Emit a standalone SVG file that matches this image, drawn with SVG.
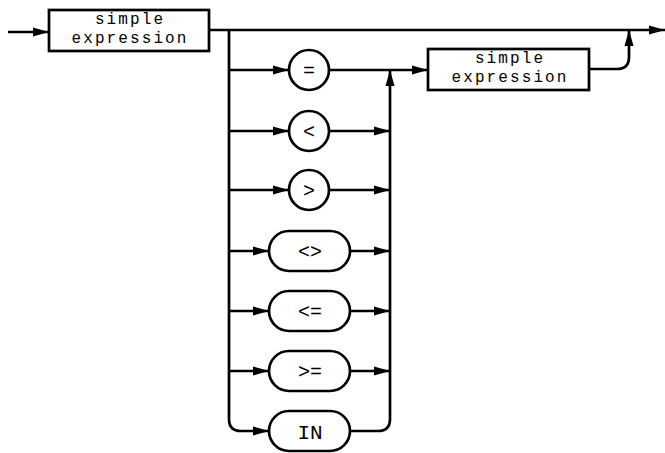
<svg xmlns="http://www.w3.org/2000/svg" width="665" height="453" viewBox="0 0 665 453">
<style>
.ln{fill:none;stroke:#000;stroke-width:2.7;stroke-linejoin:round}
.sh{fill:#fff;stroke:#000;stroke-width:2.7}
.t{font-family:"Liberation Mono","DejaVu Sans Mono",monospace;font-size:16px;letter-spacing:2.1px;fill:#000;text-anchor:middle}
.op{font-family:"Liberation Mono","DejaVu Sans Mono",monospace;font-size:20px;fill:#000;text-anchor:middle}
</style>
<defs>
<marker id="ah" markerUnits="userSpaceOnUse" markerWidth="17" markerHeight="10" refX="16" refY="5" orient="auto">
<path d="M0,0.5 L16,5 L0,9.5 Z" fill="#000"/>
</marker>
</defs>
<g id="connectors">
<path class="ln" d="M8,32 H49" marker-end="url(#ah)"/>
<path class="ln" d="M209,30 H665" marker-end="url(#ah)"/>
<path class="ln" d="M229,30 V419 Q229,431 241,431 H269" marker-end="url(#ah)"/>
<path class="ln" d="M229,70 H289" marker-end="url(#ah)"/>
<path class="ln" d="M229,131 H289" marker-end="url(#ah)"/>
<path class="ln" d="M229,190 H289" marker-end="url(#ah)"/>
<path class="ln" d="M229,251 H269" marker-end="url(#ah)"/>
<path class="ln" d="M229,311 H269" marker-end="url(#ah)"/>
<path class="ln" d="M229,371 H269" marker-end="url(#ah)"/>
<path class="ln" d="M329,70 H428" marker-end="url(#ah)"/>
<path class="ln" d="M329,131 H390" marker-end="url(#ah)"/>
<path class="ln" d="M329,190 H390" marker-end="url(#ah)"/>
<path class="ln" d="M350,251 H390" marker-end="url(#ah)"/>
<path class="ln" d="M350,311 H390" marker-end="url(#ah)"/>
<path class="ln" d="M350,371 H390" marker-end="url(#ah)"/>
<path class="ln" d="M350,431 H378 Q390,431 390,419 V70" marker-end="url(#ah)"/>
<path class="ln" d="M589,69 H617 Q629,69 629,57 V30" marker-end="url(#ah)"/>
</g>
<g id="n_simple1">
<rect class="sh" x="49" y="10" width="160" height="41"/>
<text class="t" x="130" y="23.5">simple</text>
<text class="t" x="130" y="42.5">expression</text>
</g>
<g id="n_eq">
<circle class="sh" cx="309" cy="70" r="20"/>
<text class="op" x="309" y="77">=</text>
</g>
<g id="n_lt">
<circle class="sh" cx="309" cy="131" r="20"/>
<text class="op" x="309" y="138">&lt;</text>
</g>
<g id="n_gt">
<circle class="sh" cx="309" cy="190" r="20"/>
<text class="op" x="309" y="197">&gt;</text>
</g>
<g id="n_ne">
<rect class="sh" x="269" y="231" width="81" height="40" rx="20"/>
<text class="op" x="310" y="258">&lt;&gt;</text>
</g>
<g id="n_le">
<rect class="sh" x="269" y="291" width="81" height="40" rx="20"/>
<text class="op" x="310" y="318">&lt;=</text>
</g>
<g id="n_ge">
<rect class="sh" x="269" y="351" width="81" height="40" rx="20"/>
<text class="op" x="310" y="378">&gt;=</text>
</g>
<g id="n_in">
<rect class="sh" x="269" y="411" width="81" height="40" rx="20"/>
<text class="op" x="310" y="439" style="font-size:21px">IN</text>
</g>
<g id="n_simple2">
<rect class="sh" x="428" y="49" width="161" height="41"/>
<text class="t" x="510" y="62.5">simple</text>
<text class="t" x="510" y="81.5">expression</text>
</g>
</svg>
